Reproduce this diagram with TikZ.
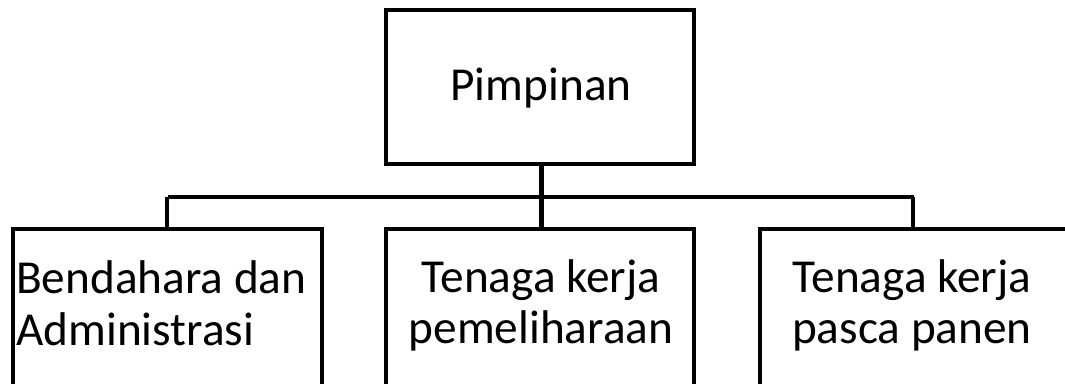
\documentclass[tikz,border=0pt]{standalone}
\usepackage{fontspec}
\setmainfont{Carlito}
\begin{document}
\begin{tikzpicture}[x=1pt,y=-1pt,
  box/.style={draw=black,line width=4pt,rectangle,inner sep=0pt},
  conn/.style={draw=black,line width=3.5pt},
  stem/.style={draw=black,line width=5pt},
  lbl/.style={font=\fontsize{47.3}{56}\selectfont,inner sep=0pt,anchor=base}]
\useasboundingbox (0,0) rectangle (1065,383);
\begin{scope}
\clip (0,0) rectangle (1065,383);
\node[box,minimum width=308pt,minimum height=154pt] (top) at (540,87) {};
\node[box,minimum width=309pt,minimum height=190pt] (b1) at (167.5,324) {};
\node[box,minimum width=308pt,minimum height=190pt] (b2) at (540,324) {};
\node[box,minimum width=308pt,minimum height=190pt] (b3) at (914,324) {};
\coordinate (hl) at (167,197);
\coordinate (hm) at (541,197);
\coordinate (hr) at (913,197);
\draw[conn] (hl -| b1.north) -- (hr -| b3.north);
\draw[conn] (hl) -- (hl |- b1.north);
\draw[conn] (hr) -- (hr |- b3.north);
\draw[stem] (top.south -| hm) -- (hm |- b2.north);
\node[lbl] (t0) at (541,100) {Pimpinan};
\node[lbl,anchor=base west] (t1a) at (16,293) {Bendahara dan};
\node[lbl,anchor=base west] (t1b) at (16,345) {Administrasi};
\node[lbl] (t2a) at (541,292) {Tenaga kerja};
\node[lbl] (t2b) at (541,343) {pemeliharaan};
\node[lbl] (t3a) at (912,292) {Tenaga kerja};
\node[lbl] (t3b) at (912,343) {pasca panen};
\end{scope}
\end{tikzpicture}
\end{document}
